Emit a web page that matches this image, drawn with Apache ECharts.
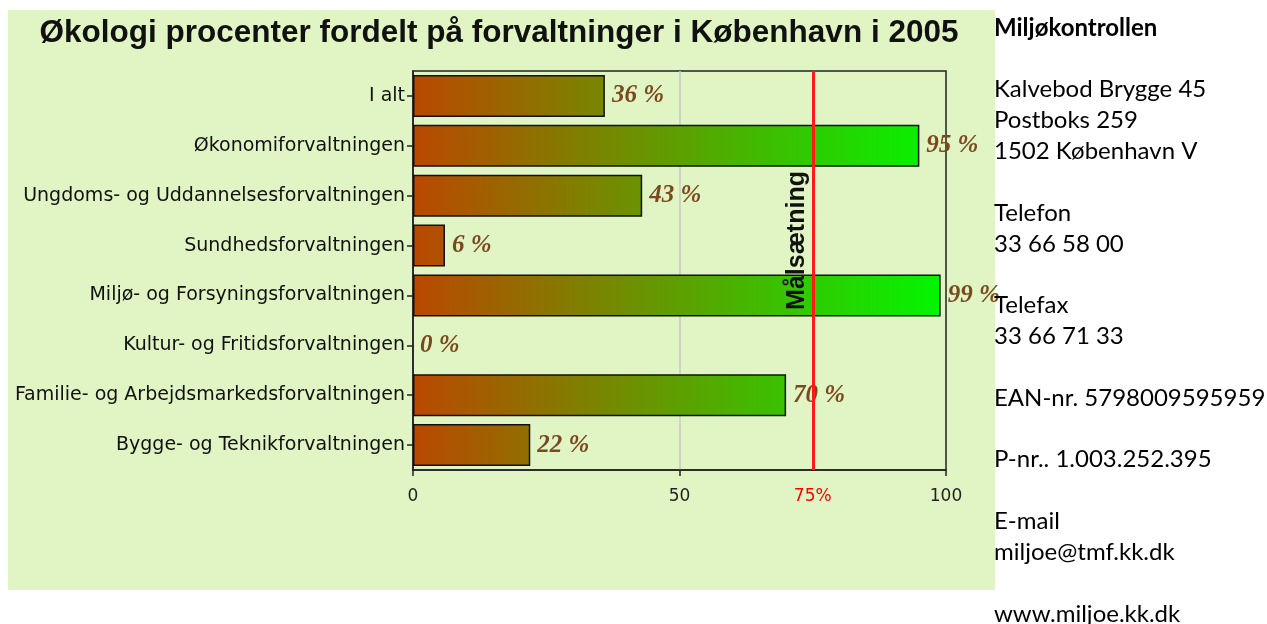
<!DOCTYPE html>
<html>
<head>
<meta charset="utf-8">
<script src="https://cdn.jsdelivr.net/npm/echarts@6/dist/echarts.min.js"></script>
<style>
html,body{margin:0;padding:0;background:#fff;}
#chart{width:1267px;height:624px;}
</style>
</head>
<body>
<div id="chart"></div>
<script>
const titleText = 'Økologi procenter fordelt på forvaltninger i København i 2005';
// listed top to bottom as in the picture
const categories = [
  'I alt',
  'Økonomiforvaltningen',
  'Ungdoms- og Uddannelsesforvaltningen',
  'Sundhedsforvaltningen',
  'Miljø- og Forsyningsforvaltningen',
  'Kultur- og Fritidsforvaltningen',
  'Familie- og Arbejdsmarkedsforvaltningen',
  'Bygge- og Teknikforvaltningen'
];
const values = [36, 95, 43, 6, 99, 0, 70, 22];
const xTickValues = [0, 50, 100];
const xLabelValues = [0, 50, 75, 100];
const targetValue = 75;
const targetLabel = 'Målsætning';
const infoLines = [
  'Miljøkontrollen', '',
  'Kalvebod Brygge 45', 'Postboks 259', '1502 København V', '',
  'Telefon', '33 66 58 00', '',
  'Telefax', '33 66 71 33', '',
  'EAN-nr. 5798009595959', '',
  'P-nr.. 1.003.252.395', '',
  'E-mail', 'miljoe@tmf.kk.dk', '',
  'www.miljoe.kk.dk'
];

const startRGB = [186, 72, 0];
const endRGB = [0, 248, 0];
function mix(t) {
  const c = startRGB.map((s, i) => Math.round(s + (endRGB[i] - s) * t));
  return 'rgb(' + c.join(',') + ')';
}

// axis runs bottom-to-top, so feed the categories reversed
const axisCats = categories.slice().reverse();
const axisVals = values.slice().reverse();

const barData = axisVals.map(v => ({
  value: v,
  itemStyle: {
    color: {
      type: 'linear', x: 0, y: 0, x2: 1, y2: 0,
      colorStops: [{offset: 0, color: mix(0)}, {offset: 1, color: mix(v / 100)}]
    },
    borderWidth: v === 0 ? 0 : 1.5
  }
}));

const infoGraphics = infoLines.map((t, i) => ({
  type: 'text',
  left: 994,
  top: 16 + i * 30.84,
  z: 100,
  style: {
    text: t,
    font: (i === 0 ? 'bold ' : '') + '24px Lato',
    fill: '#000'
  }
}));

const chart = echarts.init(document.getElementById('chart'));
chart.setOption({
  backgroundColor: '#ffffff',
  animation: false,
  title: {
    text: titleText,
    left: 494,
    textAlign: 'center',
    top: 12,
    textStyle: {fontFamily: 'Liberation Sans', fontWeight: 'bold', fontSize: 31.5, color: '#111'}
  },
  graphic: [
    {type: 'rect', left: 8, top: 10, z: -10, shape: {width: 987, height: 580}, style: {fill: '#e1f5c4'}}
  ].concat(infoGraphics),
  grid: {
    left: 413, right: 321, top: 71, bottom: 154,
    show: true, borderColor: '#222', borderWidth: 1.5, backgroundColor: 'transparent'
  },
  xAxis: {
    type: 'value', min: 0, max: 100, interval: 50,
    axisLine: {show: true, lineStyle: {color: '#222', width: 1.5}},
    axisTick: {show: true, length: 6, lineStyle: {color: '#222', width: 1.5}, customValues: xTickValues},
    splitLine: {show: true, showMinLine: false, showMaxLine: false, lineStyle: {color: '#c8c8c8', width: 1.5}},
    axisLabel: {
      customValues: xLabelValues,
      margin: 18,
      fontFamily: 'DejaVu Sans', fontSize: 17, color: '#222',
      formatter: v => v === targetValue ? '{r|' + v + '%}' : String(v),
      rich: {r: {color: '#ff0000', fontFamily: 'DejaVu Sans', fontSize: 17}}
    }
  },
  yAxis: {
    type: 'category', data: axisCats,
    axisLine: {show: true, lineStyle: {color: '#222', width: 1.5}},
    axisTick: {show: true, length: 6, alignWithLabel: true, lineStyle: {color: '#222', width: 1.5}},
    axisLabel: {margin: 8, fontFamily: 'DejaVu Sans', fontSize: 19, color: '#111'}
  },
  series: [{
    type: 'bar',
    data: barData,
    barCategoryGap: '16%',
    itemStyle: {borderColor: '#111', borderWidth: 1.5},
    label: {
      show: true, position: 'right', distance: 7,
      formatter: p => p.value + ' %',
      fontFamily: 'Liberation Serif', fontWeight: 'bold', fontStyle: 'italic',
      fontSize: 25, color: '#7a4a1e'
    },
    markLine: {
      silent: true, symbol: 'none',
      lineStyle: {color: '#ff1a1a', width: 3, type: 'solid'},
      label: {
        show: true, position: 'insideMiddleTop', formatter: targetLabel,
        fontFamily: 'Liberation Sans', fontWeight: 'bold', fontSize: 25, color: '#111',
        distance: 3, padding: [0, 0, 0, 60]
      },
      data: [{xAxis: targetValue}]
    }
  }]
});
</script>
</body>
</html>
